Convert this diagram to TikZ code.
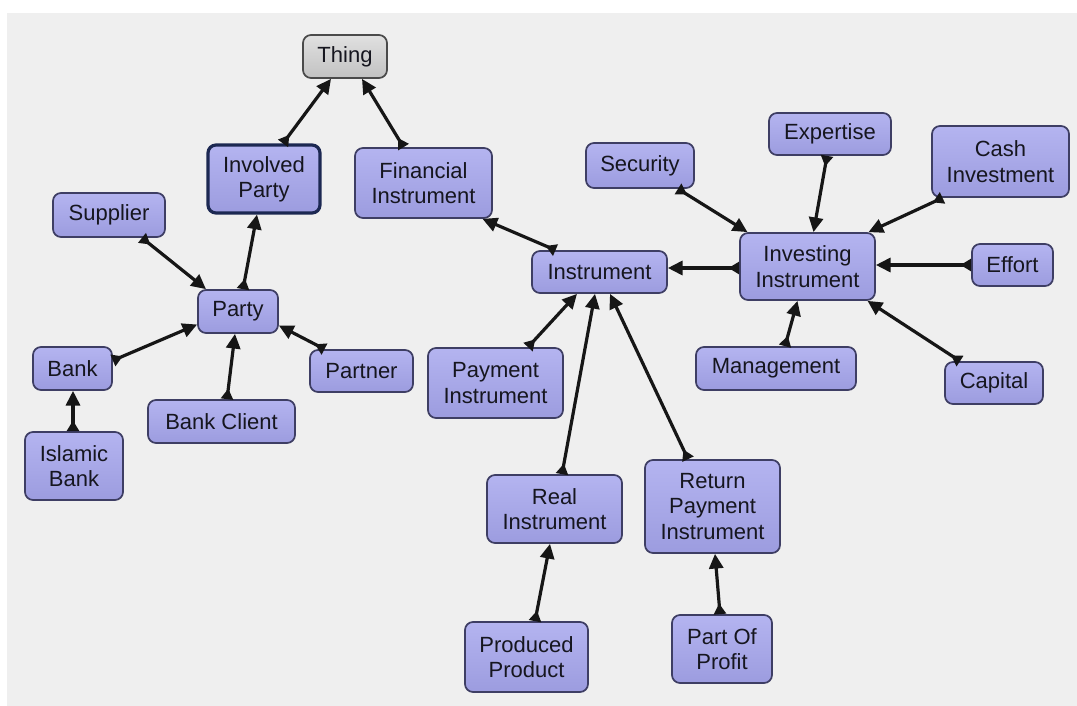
\documentclass[tikz,border=0pt]{standalone}
\usepackage{fontspec}
\setmainfont{Liberation Sans}
\usetikzlibrary{arrows.meta,calc}

\definecolor{panel}{HTML}{EFEFEF}
\definecolor{boxtop}{HTML}{B4B4F0}
\definecolor{boxbot}{HTML}{9C9CDF}
\definecolor{boxline}{HTML}{3E3E64}
\definecolor{selline}{HTML}{1C2852}
\definecolor{rootTop}{HTML}{E0E0E0}
\definecolor{rootBot}{HTML}{C2C2C2}
\definecolor{rootline}{HTML}{4A4A4A}
\definecolor{labeltext}{HTML}{16161F}
\definecolor{linkcol}{HTML}{161616}

\tikzset{
  concept/.style={draw=boxline, line width=1.3pt, top color=boxtop, bottom color=boxbot,
    rounded corners=6pt, align=center, inner sep=0pt, text=labeltext,
    font=\fontsize{16.5}{19}\selectfont},
  selected/.style={concept, draw=selline, line width=2.4pt},
  rootconcept/.style={concept, draw=rootline, top color=rootTop, bottom color=rootBot},
  link/.style={draw=linkcol, line width=2.4pt,
    {Triangle[reversed,length=8pt,width=9pt]}-{Triangle[length=11pt,width=10.5pt]}},
}

\begin{document}
\begin{tikzpicture}[x=0.75pt,y=-0.75pt]
  % page and grey canvas
  \useasboundingbox (0,0) rectangle (1077,706);
  \fill[white] (0,0) rectangle (1077,706);
  \fill[panel] (7,13) rectangle (1077,706);

  % concepts
  \node[rootconcept, minimum width=63pt,    minimum height=32.25pt] (thing)    at (345,56.5)   {Thing};
  \node[selected,    minimum width=84pt,    minimum height=51pt]    (involved) at (264,179)    {Involved\\Party};
  \node[concept,     minimum width=102.75pt,minimum height=52.5pt]  (fin)      at (423.5,183)  {Financial\\Instrument};
  \node[concept,     minimum width=84pt,    minimum height=33pt]    (supplier) at (109,215)    {Supplier};
  \node[concept,     minimum width=60pt,    minimum height=32.25pt] (party)    at (238,311.5)  {Party};
  \node[concept,     minimum width=59.25pt, minimum height=32.25pt] (bank)     at (72.5,368.5) {Bank};
  \node[concept,     minimum width=77.25pt, minimum height=31.5pt]  (partner)  at (361.5,371)  {Partner};
  \node[concept,     minimum width=110.25pt,minimum height=32.25pt] (client)   at (221.5,421.5){Bank Client};
  \node[concept,     minimum width=73.5pt,  minimum height=51pt]    (islamic)  at (74,466)     {Islamic\\Bank};

  \node[concept,     minimum width=101.25pt,minimum height=31.5pt]  (inst)     at (599.5,272)  {Instrument};
  \node[concept,     minimum width=101.25pt,minimum height=50.25pt] (invest)   at (807.5,266.5){Investing\\Instrument};
  \node[concept,     minimum width=81pt,    minimum height=33.75pt] (security) at (640,165.5)  {Security};
  \node[concept,     minimum width=91.5pt,  minimum height=31.5pt]  (expert)   at (830,134)    {Expertise};
  \node[concept,     minimum width=102.75pt,minimum height=53.25pt] (cash)     at (1000.5,161.5){Cash\\Investment};
  \node[concept,     minimum width=60.75pt, minimum height=31.5pt]  (effort)   at (1012.5,265) {Effort};
  \node[concept,     minimum width=120pt,   minimum height=32.25pt] (manage)   at (776,368.5)  {Management};
  \node[concept,     minimum width=73.5pt,  minimum height=31.5pt]  (capital)  at (994,383)    {Capital};

  \node[concept,     minimum width=101.25pt,minimum height=52.5pt]  (payment)  at (495.5,383)  {Payment\\Instrument};
  \node[concept,     minimum width=101.25pt,minimum height=51pt]    (real)     at (554.5,509)  {Real\\Instrument};
  \node[concept,     minimum width=101.25pt,minimum height=69.75pt] (return)   at (712.5,506.5){Return\\Payment\\Instrument};
  \node[concept,     minimum width=92.25pt, minimum height=52.5pt]  (produced) at (526.5,657)  {Produced\\Product};
  \node[concept,     minimum width=75pt,    minimum height=51pt]    (profit)   at (722,649)    {Part Of\\Profit};

  % subclass links (tip at the parent concept)
  \draw[link] ($(involved.north)+(19,0)$) -- ($(thing.south)+(-14,0)$);
  \draw[link] ($(fin.north)+(-20,0)$)     -- ($(thing.south)+(17,0)$);
  \draw[link] ($(party.north)+(5,0)$)     -- ($(involved.south)+(-7,0)$);
  \draw[link] ($(supplier.south)+(33,0)$) -- ($(party.north)+(-32,0)$);
  \draw[link] ($(bank.east)+(0,-8)$)      -- ($(party.west)+(0,13)$);
  \draw[link] ($(client.north)+(5.5,0)$)  -- ($(party.south)+(-3,0)$);
  \draw[link] ($(partner.north)+(-37,0)$) -- ($(party.east)+(0,14)$);
  \draw[link] ($(islamic.north)+(-1,0)$)  -- ($(bank.south)+(0.5,0)$);

  \draw[link] ($(inst.north)+(-44,0)$)    -- ($(fin.south)+(59,0)$);
  \draw[link] ($(invest.west)+(0,1.5)$)   -- ($(inst.east)+(0,-4)$);
  \draw[link] ($(security.south)+(38,0)$) -- ($(invest.north)+(-60,0)$);
  \draw[link] ($(expert.south)+(-3,0)$)   -- ($(invest.north)+(6,0)$);
  \draw[link] ($(cash.south)+(-58,0)$)    -- ($(invest.north)+(61,0)$);
  \draw[link] (effort.west)               -- ($(invest.east)+(0,-1.5)$);
  \draw[link] ($(capital.north)+(-34,0)$) -- ($(invest.south)+(60,0)$);
  \draw[link] ($(manage.north)+(9,0)$)    -- ($(invest.south)+(-10,0)$);

  \draw[link] ($(payment.north)+(32.5,0)$) -- ($(inst.south)+(-22.5,0)$);
  \draw[link] ($(real.north)+(7.5,0)$)     -- ($(inst.south)+(-4.5,0)$);
  \draw[link] ($(return.north)+(-24.5,0)$) -- ($(inst.south)+(10.5,0)$);
  \draw[link] ($(produced.north)+(8.5,0)$) -- ($(real.south)+(-4.5,0)$);
  \draw[link] ($(profit.north)+(-2,0)$)    -- ($(return.south)+(2.5,0)$);
\end{tikzpicture}
\end{document}
